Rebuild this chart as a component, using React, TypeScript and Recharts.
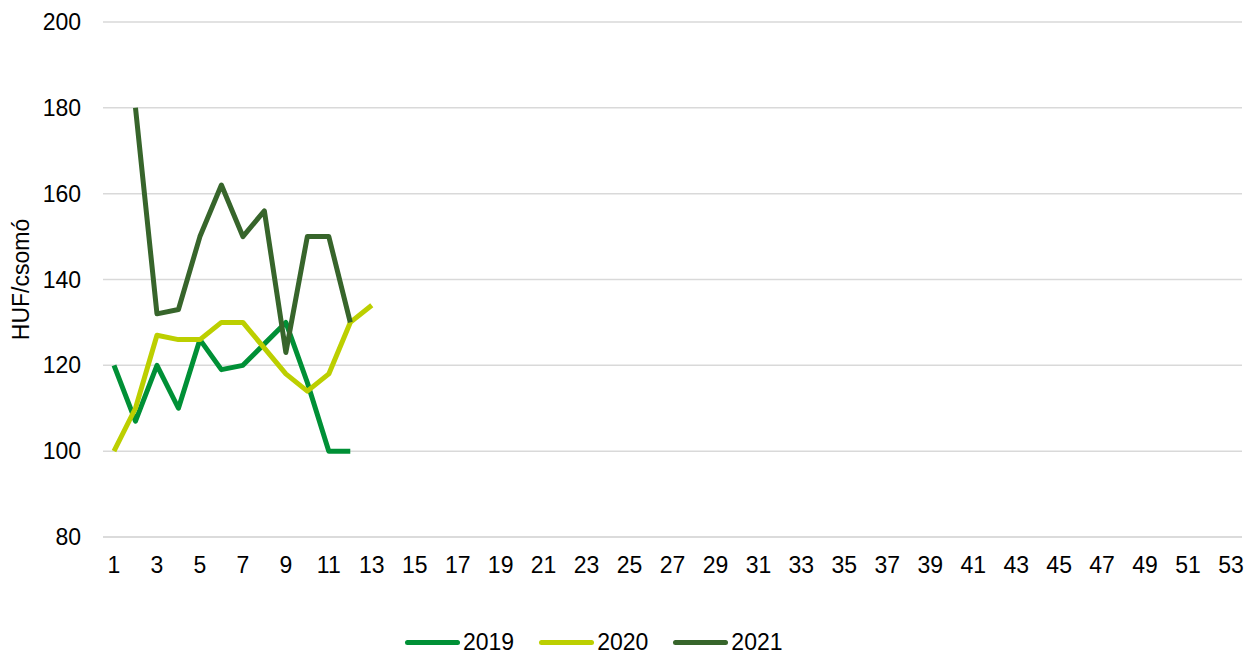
import { LineChart, Line, XAxis, YAxis, CartesianGrid, Label } from 'recharts';

const weeks = Array.from({ length: 53 }, (_, i) => i + 1);

const y2019 = [120, 107, 120, 110, 126, 119, 120, 125, 130, 116, 100, 100];
const y2020 = [100, 110, 127, 126, 126, 130, 130, 124, 118, 114, 118, 130, 134];
const y2021 = [null, 180, 132, 133, 150, 162, 150, 156, 123, 150, 150, 130];

const yTicks = [80, 100, 120, 140, 160, 180, 200];

const series = [
  { key: 'y2019', name: '2019', color: '#009036' },
  { key: 'y2020', name: '2020', color: '#bccf00' },
  { key: 'y2021', name: '2021', color: '#37652b' },
];

const data = weeks.map((w, i) => ({
  week: w,
  y2019: y2019[i] ?? null,
  y2020: y2020[i] ?? null,
  y2021: y2021[i] ?? null,
}));

const font = 'Liberation Sans, Arial, sans-serif';

export default function App() {
  return (
    <div style={{ position: 'absolute', left: 0, top: 0, width: 1260, height: 655, background: '#fff', overflow: 'hidden', fontFamily: font }}>
      <LineChart width={1260} height={655} data={data} margin={{ top: 22, right: 18, left: 0, bottom: 88 }}>
        <CartesianGrid vertical={false} stroke="#d9d9d9" strokeWidth={1.5} />
        <XAxis
          dataKey="week"
          interval={1}
          padding={{ left: 11, right: 11 }}
          tickLine={false}
          axisLine={{ stroke: '#d9d9d9', strokeWidth: 1.5 }}
          tickSize={0}
          tickMargin={20}
          tick={{ fill: '#000', fontSize: 23, fontFamily: font }}
        />
        <YAxis
          width={103}
          domain={[80, 200]}
          ticks={yTicks}
          axisLine={false}
          tickLine={false}
          tickSize={0}
          tickMargin={22}
          tick={{ fill: '#000', fontSize: 23, fontFamily: font }}
        >
          <Label
            value="HUF/csomó"
            angle={-90}
            position="insideLeft"
            offset={21}
            style={{ textAnchor: 'middle', fill: '#000', fontSize: 23, fontFamily: font }}
          />
        </YAxis>
        {series.map((s) => (
          <Line
            key={s.key}
            dataKey={s.key}
            name={s.name}
            stroke={s.color}
            strokeWidth={5}
            dot={false}
            activeDot={false}
            strokeLinejoin="round"
            isAnimationActive={false}
          />
        ))}
      </LineChart>
      <div style={{ position: 'absolute', left: 405, top: 628, display: 'flex', alignItems: 'center', fontSize: 23, color: '#000', lineHeight: '28px' }}>
        {series.map((s) => (
          <div key={s.key} style={{ display: 'flex', alignItems: 'center', marginRight: 25 }}>
            <span style={{ display: 'inline-block', width: 55, height: 5, borderRadius: 3, background: s.color, marginRight: 3 }} />
            <span>{s.name}</span>
          </div>
        ))}
      </div>
    </div>
  );
}
